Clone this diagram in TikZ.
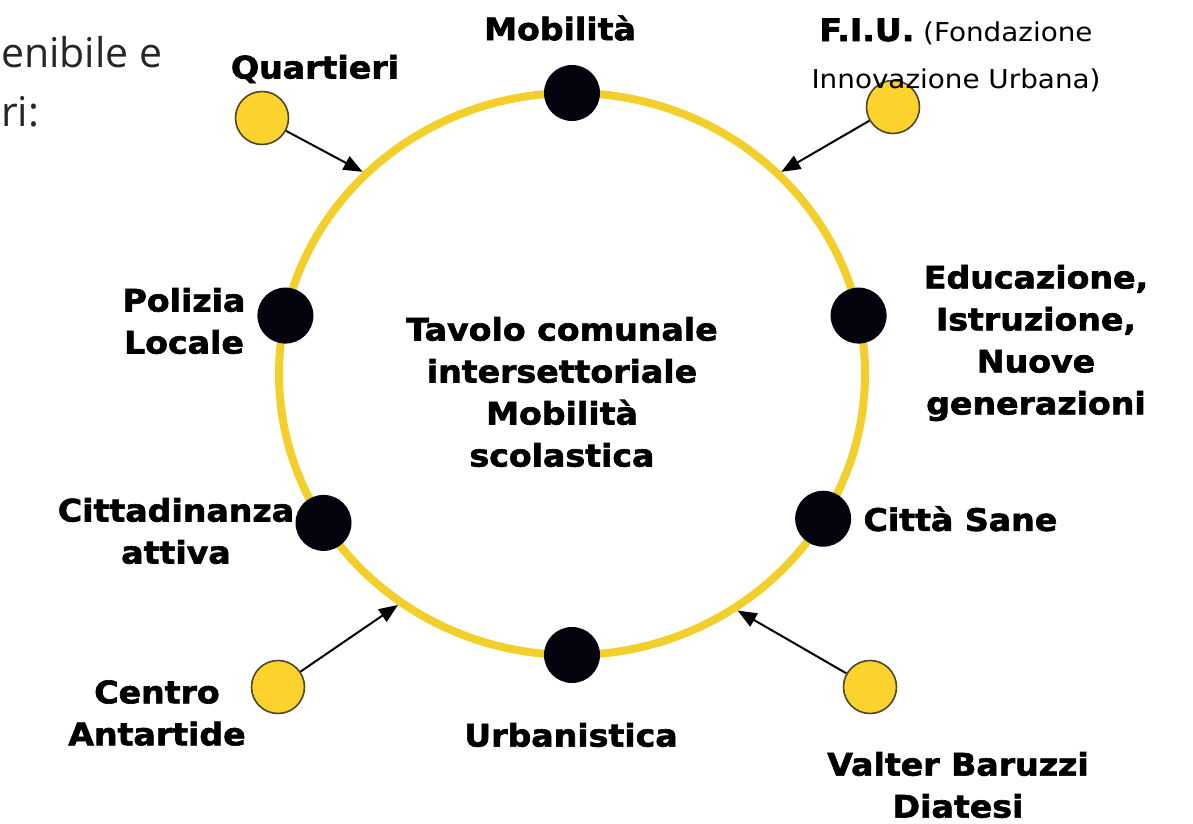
\documentclass[tikz,border=0pt]{standalone}
\usepackage{fontspec}
\setmainfont{DejaVu Sans}[FakeStretch=1.07, BoldFeatures={FakeBold=2}]
\newfontfamily\introfont{Open Sans}
\usetikzlibrary{positioning,shapes.geometric,arrows.meta,calc}
\definecolor{ringyellow}{HTML}{F3CF2B}
\definecolor{dotyellow}{HTML}{FCD22C}
\definecolor{dotrim}{HTML}{4E472A}
\definecolor{dotblack}{HTML}{03030E}

\begin{document}
\begin{tikzpicture}[x=1pt, y=1pt,
  sector/.style={shape=circle, fill=dotblack, minimum size=56pt, inner sep=0pt},
  actor/.style={shape=circle, fill=dotyellow, draw=dotrim, line width=1.6pt, minimum size=53pt, inner sep=0pt},
  lbl/.style={font=\fontsize{31}{42}\selectfont\bfseries, align=center, inner sep=0pt},
  link/.style={-{Triangle[length=19pt, width=15pt]}, line width=2pt}]
  \useasboundingbox (0,0) rectangle (1193,823);
  \clip (0,0) rectangle (1193,823);
  % the table
  \node[name=ring, shape=ellipse, draw=ringyellow, line width=8pt,
    minimum width=586pt, minimum height=562pt] at (572,449) {};
  \foreach \ang/\nm in {90/mob, 168/pol, 212/cit, 270/urb, 329/san, 12/edu}
    \node[sector, name=\nm] at ($(ring.center)+(\ang:293 and 281)$) {};
  % outside partners
  \foreach \x/\y/\nm in {262/705/quart, 893/716/fiu, 278/136/antar, 870/136/valt}
    \node[actor, name=\nm] at (\x,\y) {};
  \foreach \nm/\ang in {quart/136, fiu/44, antar/233, valt/305}
    \draw[link] (\nm) -- (ring.\ang);
  % labels
  \node[lbl, name=tavolo] at (562,431)
    {Tavolo comunale\\intersettoriale\\Mobilità\\scolastica};
  \node[lbl, name=mobL] at (560,795) {Mobilità};
  \node[lbl, name=quartL] at (315,754) {Quartieri};
  \node[lbl, name=fiuL, font=\fontsize{26}{47}\selectfont] at (956,768)
    {{\fontsize{31}{47}\selectfont\bfseries F.I.U.} (Fondazione\\Innovazione Urbana)};
  \node[lbl, name=polL] at (184,502) {Polizia\\Locale};
  \node[lbl, name=eduL] at (1036,480) {Educazione,\\Istruzione,\\Nuove\\generazioni};
  \node[lbl, name=citL] at (176,292) {Cittadinanza\\attiva};
  \node[lbl, name=sanL, right=12pt of san] {Città Sane};
  \node[lbl, name=antarL] at (157,110) {Centro\\Antartide};
  \node[lbl, name=urbL] at (571,88) {Urbanistica};
  \node[lbl, name=valtL] at (958,38) {Valter Baruzzi\\Diatesi};
  % slide text at the left edge
  \node[name=intro1, anchor=base west, inner sep=0pt, font=\introfont\fontsize{41}{59}\selectfont,
    text=black!85] at (1,755) {enibile e};
  \node[name=intro2, anchor=base west, inner sep=0pt, font=\introfont\fontsize{41}{59}\selectfont,
    text=black!85] at (1,696) {ri:};
\end{tikzpicture}
\end{document}
